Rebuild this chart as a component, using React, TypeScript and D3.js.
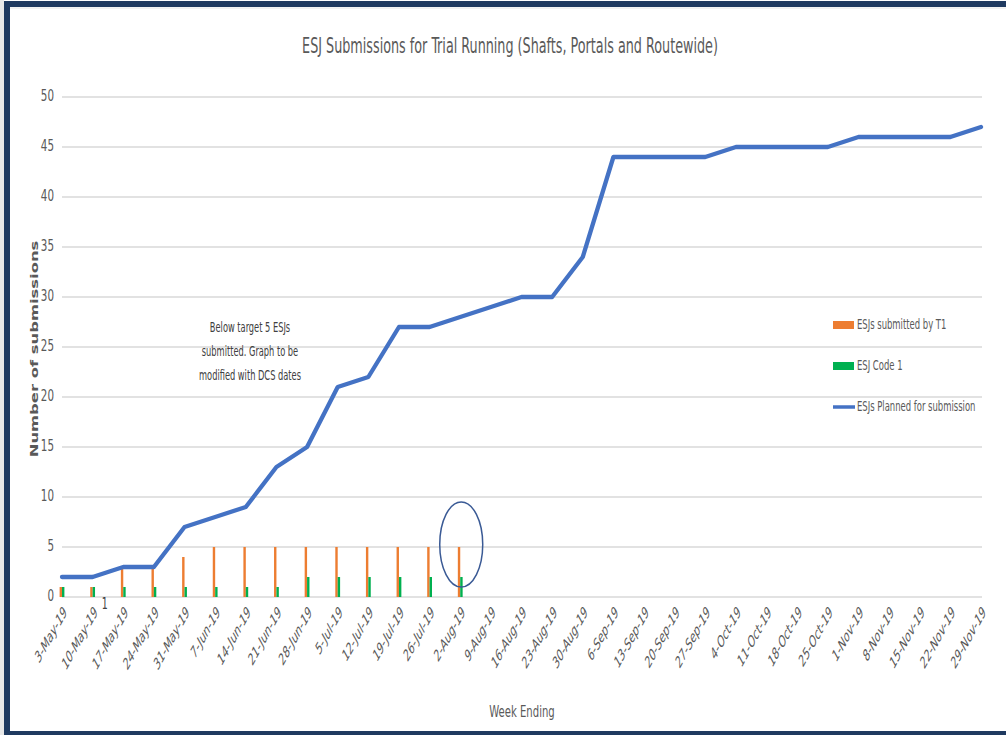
import React from "react";
import * as d3 from "d3";

const weeks = [
  "3-May-19", "10-May-19", "17-May-19", "24-May-19", "31-May-19", "7-Jun-19", "14-Jun-19",
  "21-Jun-19", "28-Jun-19", "5-Jul-19", "12-Jul-19", "19-Jul-19", "26-Jul-19", "2-Aug-19",
  "9-Aug-19", "16-Aug-19", "23-Aug-19", "30-Aug-19", "6-Sep-19", "13-Sep-19", "20-Sep-19",
  "27-Sep-19", "4-Oct-19", "11-Oct-19", "18-Oct-19", "25-Oct-19", "1-Nov-19", "8-Nov-19",
  "15-Nov-19", "22-Nov-19", "29-Nov-19",
];
// ESJs submitted by T1 (orange)
const submitted = [1, 1, 3, 3, 4, 5, 5, 5, 5, 5, 5, 5, 5, 5];
// ESJ Code 1 (green)
const code1 = [1, 1, 1, 1, 1, 1, 1, 1, 2, 2, 2, 2, 2, 2];
// ESJs Planned for submission (blue line)
const planned = [
  2, 2, 3, 3, 7, 8, 9, 13, 15, 21, 22, 27, 27, 28, 29, 30, 30, 34, 44, 44, 44, 44, 45, 45, 45,
  45, 46, 46, 46, 46, 47,
];
const yTicks = [0, 5, 10, 15, 20, 25, 30, 35, 40, 45, 50];
const noteLines = ["Below target 5 ESJs", "submitted. Graph to be", "modified with DCS dates"];
const legendItems = [
  { label: "ESJs submitted by T1", color: "#ED7D31", kind: "rect" },
  { label: "ESJ Code 1", color: "#00B050", kind: "rect" },
  { label: "ESJs Planned for submission", color: "#4472C4", kind: "line" },
];

const W = 1006;
const H = 735;
const NARROW = "'Liberation Sans Narrow', 'DejaVu Sans Condensed', 'Arial Narrow', sans-serif";
const TXT = "#595959";
const SY = 1.45; // picture is stretched vertically

const x = d3.scalePoint<string>().domain(weeks).range([62, 981]);
const y = d3.scaleLinear().domain([0, 50]).range([597, 97]);

const App: React.FC = () => {
  const line = d3
    .line<number>()
    .x((_, i) => x(weeks[i])!)
    .y((d) => y(d));
  const barW = 2.4;

  return (
    <div style={{ position: "absolute", left: 0, top: 0 }}>
      <svg width={W} height={H} style={{ display: "block", background: "#fff" }}>
        {/* frame */}
        <rect x={0} y={0} width={4} height={H} fill="#e8e8e8" />
        <rect x={4} y={1} width={W - 4} height={6} fill="#1F3A60" />
        <rect x={4} y={1} width={6} height={H - 1} fill="#1F3A60" />
        <rect x={4} y={731} width={W - 4} height={4} fill="#1F3A60" />
        <line x1={10} x2={W} y1={8} y2={8} stroke="#e4e4e4" />

        {/* title */}
        <text
          transform={`translate(510,53) scale(1,${SY})`}
          textAnchor="middle"
          fontFamily={NARROW}
          fontSize={14.2}
          fill={TXT}
        >
          ESJ Submissions for Trial Running (Shafts, Portals and Routewide)
        </text>

        {/* gridlines + y ticks */}
        {yTicks.map((t) => (
          <g key={t}>
            <line x1={62} x2={982} y1={y(t)} y2={y(t)} stroke="#d9d9d9" strokeWidth={1.3} />
            <text
              transform={`translate(54,${y(t) + 4}) scale(1,${SY})`}
              textAnchor="end"
              fontFamily={NARROW}
              fontSize={11.5}
              fill={TXT}
            >
              {t}
            </text>
          </g>
        ))}

        {/* y axis title */}
        <text
          transform={`translate(38,${(y(0) + y(50)) / 2 + 2}) scale(1,${SY}) rotate(-90)`}
          textAnchor="middle"
          fontFamily="'DejaVu Sans', sans-serif"
          fontWeight="bold"
          fontSize={11.3}
          fill={TXT}
        >
          Number of submissions
        </text>

        {/* bars */}
        {submitted.map((v, i) => (
          <rect
            key={"o" + i}
            x={x(weeks[i])! - barW}
            y={y(v)}
            width={barW}
            height={y(0) - y(v)}
            fill="#ED7D31"
          />
        ))}
        {code1.map((v, i) => (
          <rect
            key={"g" + i}
            x={x(weeks[i])!}
            y={y(v)}
            width={barW}
            height={y(0) - y(v)}
            fill="#00B050"
          />
        ))}
        <text
          transform={`translate(${x(weeks[1])! + 12},${y(0) + 12}) scale(1,${SY})`}
          textAnchor="middle"
          fontFamily={NARROW}
          fontSize={10.5}
          fill="#404040"
        >
          {code1[1]}
        </text>

        {/* planned line */}
        <path
          d={line(planned) || ""}
          fill="none"
          stroke="#4472C4"
          strokeWidth={4.3}
          strokeLinejoin="round"
          strokeLinecap="round"
        />

        {/* x labels */}
        {weeks.map((w) => (
          <text
            key={w}
            transform={`translate(${x(w)! + 3},${y(0) + 12}) scale(1,1.8) rotate(-45)`}
            textAnchor="end"
            dy="0.35em"
            fontFamily={NARROW}
            fontSize={9.5}
            fill={TXT}
          >
            {w}
          </text>
        ))}

        {/* x axis title */}
        <text
          transform={`translate(522,717) scale(1,${SY})`}
          textAnchor="middle"
          fontFamily={NARROW}
          fontSize={11.2}
          fill={TXT}
        >
          Week Ending
        </text>

        {/* annotation */}
        {noteLines.map((s, i) => (
          <text
            key={s}
            transform={`translate(250,${y(26.5) + i * 24}) scale(1,${SY})`}
            textAnchor="middle"
            fontFamily={NARROW}
            fontSize={9.2}
            fill="#404040"
          >
            {s}
          </text>
        ))}
        <ellipse
          cx={x("2-Aug-19")! + 1}
          cy={y(5.25)}
          rx={21.5}
          ry={y(0.75) - y(5)}
          fill="none"
          stroke="#3A5A95"
          strokeWidth={1.5}
        />

        {/* legend */}
        {legendItems.map((it, i) => {
          const cy = 325 + i * 41;
          return (
            <g key={it.label}>
              {it.kind === "rect" ? (
                <rect x={833} y={cy - 4} width={21} height={8} fill={it.color} />
              ) : (
                <line x1={833} x2={855} y1={cy} y2={cy} stroke={it.color} strokeWidth={3.5} />
              )}
              <text
                transform={`translate(857,${cy + 4}) scale(1,${SY})`}
                fontFamily={NARROW}
                fontSize={9.4}
                fill={TXT}
              >
                {it.label}
              </text>
            </g>
          );
        })}
      </svg>
    </div>
  );
};

export default App;
